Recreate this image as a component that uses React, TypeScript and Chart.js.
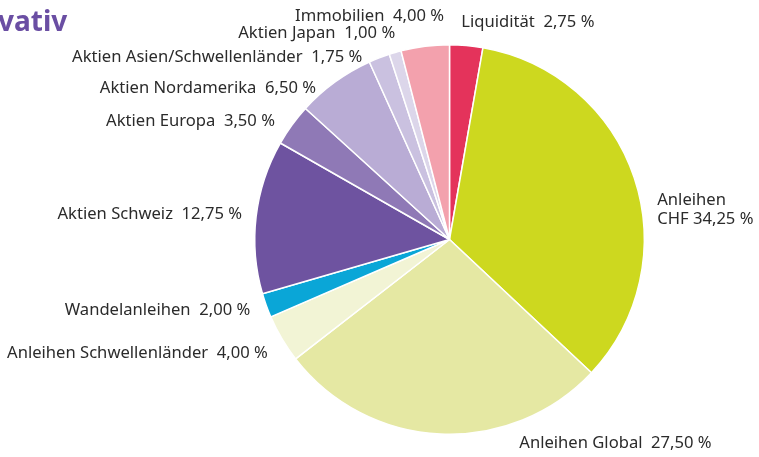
import React, { useEffect, useRef } from "react";
import { Chart, registerables } from "chart.js";

Chart.register(...registerables);

const categories = [
  "Liquidität",
  "Anleihen CHF",
  "Anleihen Global",
  "Anleihen Schwellenländer",
  "Wandelanleihen",
  "Aktien Schweiz",
  "Aktien Europa",
  "Aktien Nordamerika",
  "Aktien Asien/Schwellenländer",
  "Aktien Japan",
  "Immobilien",
];
const shares = [2.75, 34.25, 27.5, 4.0, 2.0, 12.75, 3.5, 6.5, 1.75, 1.0, 4.0];
const sliceColors = [
  "#e4335b",
  "#cdd81f",
  "#e5e8a3",
  "#f2f4d5",
  "#0aa6d7",
  "#6e53a0",
  "#8f79b6",
  "#b9acd5",
  "#cac1e0",
  "#dcd6ea",
  "#f3a1ad",
];
// label placement relative to each slice's outer mid point: [dx, dy, align]
const labelOffsets: [number, number, CanvasTextAlign][] = [
  [-5, -23, "left"],
  [23, 22, "left"],
  [79, 9, "left"],
  [-14, 15, "right"],
  [-16, 5, "right"],
  [-14, -2, "right"],
  [-17, -4, "right"],
  [-19, 6, "right"],
  [-17, -1, "right"],
  [0, -19, "right"],
  [19, -30, "right"],
];
const wrappedLabels = ["Anleihen CHF"];
const titleText = "vativ";

const fmt = (v: number) => v.toFixed(2).replace(".", ",") + " %";

const labelPlugin = {
  id: "sliceLabels",
  afterDraw(chart: any) {
    const ctx = chart.ctx;
    const meta = chart.getDatasetMeta(0);
    ctx.save();
    ctx.font = "16.6px 'Noto Sans', sans-serif";
    ctx.fillStyle = "#2b2b2b";
    ctx.textBaseline = "middle";
    meta.data.forEach((arc: any, i: number) => {
      const mid = (arc.startAngle + arc.endAngle) / 2;
      const ex = arc.x + Math.cos(mid) * arc.outerRadius;
      const ey = arc.y + Math.sin(mid) * arc.outerRadius;
      const [dx, dy, align] = labelOffsets[i];
      ctx.textAlign = align;
      const name = categories[i];
      const val = fmt(shares[i]);
      if (wrappedLabels.includes(name)) {
        const parts = name.split(" ");
        ctx.fillText(parts[0], ex + dx, ey + dy);
        ctx.fillText(parts.slice(1).join(" ") + " " + val, ex + dx, ey + dy + 19);
      } else {
        ctx.fillText(name + "  " + val, ex + dx, ey + dy);
      }
    });
    ctx.font = "bold 28px 'Noto Sans', sans-serif";
    ctx.fillStyle = "#6a4ea3";
    ctx.textAlign = "left";
    ctx.textBaseline = "alphabetic";
    ctx.fillText(titleText, -2, 31);
    ctx.restore();
  },
};

export default function App() {
  const ref = useRef<HTMLCanvasElement>(null);
  useEffect(() => {
    if (!ref.current) return;
    const chart = new Chart(ref.current, {
      type: "pie",
      data: {
        labels: categories,
        datasets: [
          {
            data: shares,
            backgroundColor: sliceColors,
            borderColor: "#ffffff",
            borderWidth: 1.5,
          },
        ],
      },
      options: {
        responsive: false,
        animation: false,
        layout: { padding: { left: 254, right: 114, top: 44, bottom: 22 } },
        plugins: {
          legend: { display: false },
          tooltip: { enabled: false },
          title: { display: false },
        },
      },
      plugins: [labelPlugin],
    });
    return () => chart.destroy();
  }, []);
  return (
    <div style={{ position: "fixed", left: 0, top: 0, width: 759, height: 457, background: "#fff" }}>
      <canvas ref={ref} width={759} height={457} />
    </div>
  );
}
